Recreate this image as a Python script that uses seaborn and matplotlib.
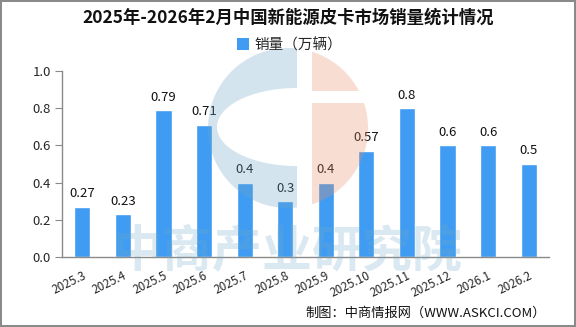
import matplotlib
matplotlib.use("Agg")
import matplotlib.pyplot as plt
import seaborn as sns
import pandas as pd
import numpy as np
from matplotlib.patches import Patch, PathPatch
from matplotlib.path import Path

months = ["2025.3", "2025.4", "2025.5", "2025.6", "2025.7", "2025.8", "2025.9",
          "2025.10", "2025.11", "2025.12", "2026.1", "2026.2"]
sales = [0.27, 0.23, 0.79, 0.71, 0.4, 0.3, 0.4, 0.57, 0.8, 0.6, 0.6, 0.5]
value_labels = ["0.27", "0.23", "0.79", "0.71", "0.4", "0.3", "0.4", "0.57", "0.8", "0.6", "0.6", "0.5"]
y_ticks = [0.0, 0.2, 0.4, 0.6, 0.8, 1.0]

sns.set_style("white")
plt.rcParams['font.family'] = ['Noto Sans CJK SC', 'DejaVu Sans']

BLUE = "#3F9CF2"
GRAY = "#8A8A8A"

W, H = 576, 327
fig = plt.figure(figsize=(W / 100, H / 100), dpi=100)
fig.patch.set_edgecolor(GRAY)
fig.patch.set_linewidth(1.5)

ax = fig.add_axes([62 / W, 1 - 257 / H, (549 - 62) / W, (257 - 71) / H])
df = pd.DataFrame({"month": months, "sales": sales})
sns.barplot(data=df, x="month", y="sales", color=BLUE, width=0.4, ax=ax,
            saturation=1, zorder=2)

for i, (v, lab) in enumerate(zip(sales, value_labels)):
    ax.text(i, v + 0.035, lab, ha="center", va="bottom", fontsize=9.5, color="#111111")

ax.set_ylim(0, 1.0)
ax.set_xlim(-0.5, len(months) - 0.5)
ax.set_yticks(y_ticks)
ax.set_yticklabels([f"{t:.1f}" for t in y_ticks], fontsize=9.5)
ax.set_xticks(range(len(months)))
ax.set_xticklabels(months, rotation=26, ha="right", rotation_mode="anchor", fontsize=8.5)
ax.set_xticks([i - 0.5 for i in range(len(months) + 1)], minor=True)
ax.tick_params(axis="x", which="major", length=0, pad=9)
ax.tick_params(axis="x", which="minor", length=5, color=GRAY, direction="out")
ax.tick_params(axis="y", length=5, color=GRAY, direction="out", left=True, pad=3)
ax.set_xlabel("")
ax.set_ylabel("")
for s in ["top", "right"]:
    ax.spines[s].set_visible(False)
for s in ["left", "bottom"]:
    ax.spines[s].set_color(GRAY)
    ax.spines[s].set_linewidth(1)

fig.text(0.5, 1 - 18 / H, "2025年-2026年2月中国新能源皮卡市场销量统计情况",
         ha="center", va="center", fontsize=12.5, fontweight="bold", color="#111111")

fig.legend(handles=[Patch(facecolor=BLUE, edgecolor="none", label="销量（万辆）")],
           loc="center", bbox_to_anchor=(290 / W, 1 - 45 / H), frameon=False,
           fontsize=10.5, handlelength=0.8, handleheight=0.9, handletextpad=0.4)

fig.text(546 / W, 1 - 313 / H, "制图：中商情报网（WWW.ASKCI.COM）",
         ha="right", va="center", fontsize=9.5, color="#111111")


# ---- watermark (decorative logo), in figure pixel coordinates ----
def px(x, y):
    return (x / W, 1 - y / H)


def poly(points, color, alpha):
    verts = [px(x, y) for x, y in points] + [px(*points[0])]
    codes = [Path.MOVETO] + [Path.LINETO] * (len(verts) - 2) + [Path.CLOSEPOLY]
    fig.patches.append(PathPatch(Path(verts, codes), transform=fig.transFigure,
                                 facecolor=color, edgecolor="none", alpha=alpha, zorder=5))


wm_blue = "#6FA8C8"
wm_peach = "#E8906A"
a = 0.3
cx, cy, r = 288, 128, 80


def circ(t):
    return (cx + r * np.cos(t), cy - r * np.sin(t))


# blue "C": left part of circle minus inner ellipse
t0 = np.arccos((297 - cx) / r)
outer = [circ(t) for t in np.linspace(t0, 2 * np.pi - t0, 100)]
ex, ey, ea, eb = 297, 127, 80, 39
inner = [(ex + ea * np.cos(t), ey - eb * np.sin(t)) for t in np.linspace(3 * np.pi / 2, np.pi / 2, 80)]
poly(outer + inner, wm_blue, a)

# peach right part with white horizontal notch
t1 = np.arccos((312 - cx) / r)
ta = np.arcsin((cy - 91) / r)
tb = np.arcsin((cy - 103) / r)
top = [circ(t) for t in np.linspace(t1, ta, 40)] + [(312, 91)]
poly(top, wm_peach, a)
bot = [circ(t) for t in np.linspace(tb, -t1, 80)] + [(312, 103)]
poly(bot, wm_peach, a)

fig.text(288 / W, 1 - 253 / H, "中商产业研究院", ha="center", va="center",
         fontsize=36, fontweight="bold", color=wm_blue, alpha=0.25, zorder=5)

fig.savefig("out.png", dpi=100)
